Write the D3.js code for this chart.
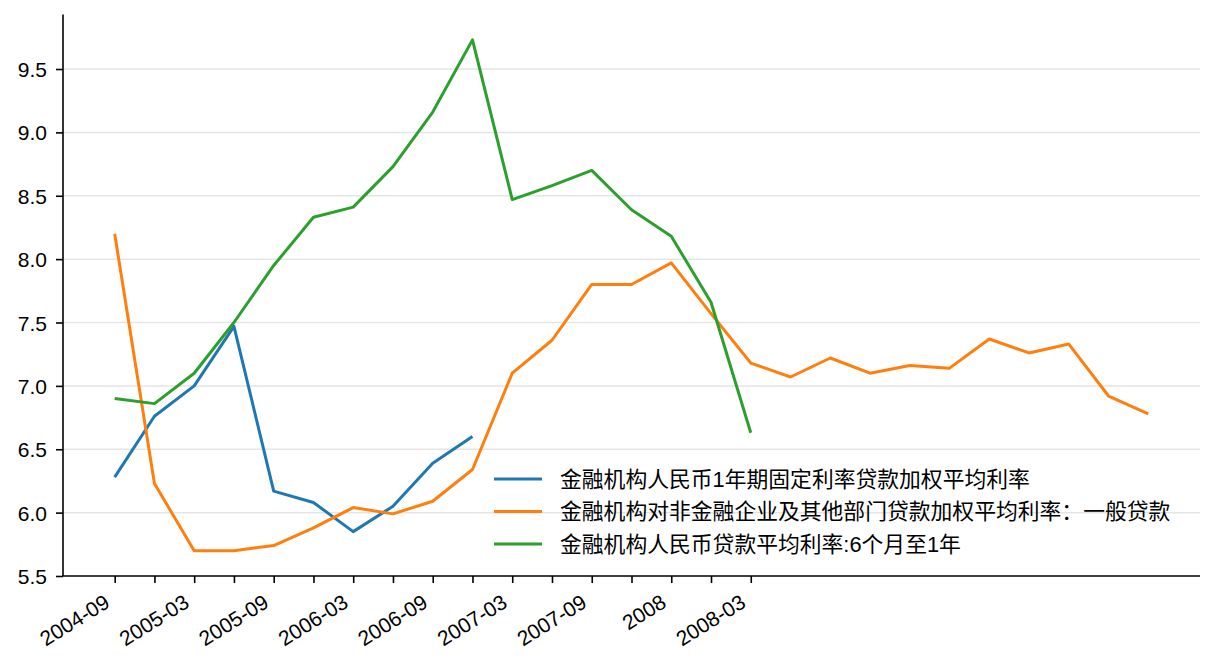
<!DOCTYPE html>
<html>
<head>
<meta charset="utf-8">
<script src="https://cdn.jsdelivr.net/npm/d3@7"></script>
<style>
  html, body { margin: 0; padding: 0; background: #fff; }
  svg { display: block; font-family: "Liberation Sans", Arial, "Noto Sans CJK SC", sans-serif; }
</style>
</head>
<body>
<svg id="chart" width="1216" height="672"></svg>
<script>
// Quarterly categories; only every other tick carries a label
const tickLabels = ['2004-09', '', '2005-03', '', '2005-09', '', '2006-03', '', '2006-09', '',
    '2007-03', '', '2007-09', '', '2008', '', '2008-03'];

const seriesNames = [
    '金融机构人民币1年期固定利率贷款加权平均利率',
    '金融机构对非金融企业及其他部门贷款加权平均利率：一般贷款',
    '金融机构人民币贷款平均利率:6个月至1年'
];
const seriesColors = ['#1f77b4', '#ff7f0e', '#2ca02c'];

const fixedRate1y = [6.28, 6.76, 7.00, 7.47, 6.17, 6.08, 5.85, 6.05, 6.39, 6.60];
const generalLoan = [8.20, 6.23, 5.70, 5.70, 5.74, 5.88, 6.04, 5.99, 6.09, 6.34, 7.10, 7.36,
    7.80, 7.80, 7.97, 7.57, 7.18, 7.07, 7.22, 7.10, 7.16, 7.14, 7.37, 7.26, 7.33, 6.92, 6.78];
const loan6mTo1y = [6.90, 6.86, 7.10, 7.50, 7.95, 8.33, 8.41, 8.73, 9.16, 9.73, 8.47, 8.58,
    8.70, 8.39, 8.18, 7.66, 6.63];

const yTicks = [5.5, 6.0, 6.5, 7.0, 7.5, 8.0, 8.5, 9.0, 9.5];

const svg = d3.select('#chart');
const plot = { left: 63, right: 1200, top: 14.5, bottom: 576 };

const x = d3.scaleLinear().domain([-1.3, 27.3]).range([plot.left, plot.right]);
const y = d3.scaleLinear().domain([5.5, 9.93]).range([plot.bottom, plot.top]);

// horizontal grid
svg.append('g')
    .selectAll('line')
    .data(yTicks.slice(1))
    .join('line')
    .attr('x1', plot.left)
    .attr('x2', plot.right)
    .attr('y1', d => y(d))
    .attr('y2', d => y(d))
    .attr('stroke', '#e5e5e5')
    .attr('stroke-width', 1.5);

// lines
const line = d3.line()
    .x((d, i) => x(i))
    .y(d => y(d));

[fixedRate1y, generalLoan, loan6mTo1y].forEach((values, k) => {
    svg.append('path')
        .datum(values)
        .attr('fill', 'none')
        .attr('stroke', seriesColors[k])
        .attr('stroke-width', 3)
        .attr('stroke-linejoin', 'round')
        .attr('d', line);
});

// y axis
const yAxis = d3.axisLeft(y)
    .tickValues(yTicks)
    .tickFormat(d3.format('.1f'))
    .tickSize(7)
    .tickPadding(9);
const gy = svg.append('g')
    .attr('transform', `translate(${plot.left},0)`)
    .call(yAxis);
gy.select('.domain')
    .attr('d', `M0,${plot.top}V${plot.bottom}`)
    .attr('stroke', '#000')
    .attr('stroke-width', 1.6);
gy.selectAll('.tick line').attr('stroke', '#000').attr('stroke-width', 1.6);
gy.selectAll('.tick text')
    .attr('fill', '#000')
    .style('font-size', '21px')
    .attr('dy', '0.36em');

// x axis
const xAxis = d3.axisBottom(x)
    .tickValues(d3.range(tickLabels.length))
    .tickFormat(i => tickLabels[i])
    .tickSize(7);
const gx = svg.append('g')
    .attr('transform', `translate(0,${plot.bottom})`)
    .call(xAxis);
gx.select('.domain')
    .attr('d', `M${plot.left},0H${plot.right}`)
    .attr('stroke', '#000')
    .attr('stroke-width', 1.6);
gx.selectAll('.tick line').attr('stroke', '#000').attr('stroke-width', 1.6);
gx.selectAll('.tick text')
    .attr('fill', '#000')
    .style('font-size', '21px')
    .attr('text-anchor', 'end')
    .attr('dy', null)
    .attr('y', null)
    .attr('transform', 'translate(-4,30) rotate(-32)');

// legend (no frame)
const legend = svg.append('g').attr('transform', 'translate(494,479)');
seriesNames.forEach((name, k) => {
    const row = legend.append('g').attr('transform', `translate(0,${k * 32.5})`);
    row.append('line')
        .attr('x1', 0)
        .attr('x2', 48)
        .attr('stroke', seriesColors[k])
        .attr('stroke-width', 3);
    row.append('text')
        .attr('x', 66)
        .attr('dy', '0.36em')
        .style('font-size', '21.8px')
        .attr('fill', '#000')
        .text(name);
});
</script>
</body>
</html>
